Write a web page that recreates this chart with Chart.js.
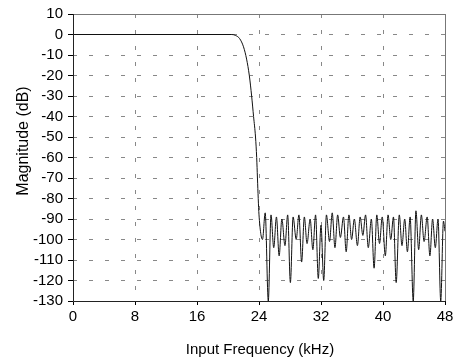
<!DOCTYPE html>
<html>
<head>
<meta charset="utf-8">
<script src="https://cdn.jsdelivr.net/npm/chart.js@4/dist/chart.umd.min.js"></script>
<style>
  html, body { margin: 0; padding: 0; background: #fff; }
</style>
</head>
<body>
<canvas id="myChart" width="461" height="364"></canvas>
<script>
// frequency response (kHz, dB)
var freqKHz = [
  0, 20.5, 21, 21.5, 22, 22.4, 22.75, 23.05, 23.3, 23.55, 23.7, 23.8, 23.9, 24.0,
  24.45, 24.8, 25.2, 25.55, 25.9, 26.25, 26.6, 26.95, 27.35, 27.7,
  28.05, 28.4, 28.8, 29.15, 29.5, 29.85, 30.2, 30.6, 30.95, 31.3,
  31.65, 32.0, 32.35, 32.7, 33.1, 33.45, 33.8, 34.15, 34.5, 34.9,
  35.25, 35.6, 35.95, 36.3, 36.7, 37.05, 37.4, 37.75, 38.1, 38.5,
  38.85, 39.2, 39.55, 39.9, 40.3, 40.65, 41.0, 41.35, 41.7, 42.1,
  42.45, 42.8, 43.15, 43.5, 43.9, 44.25, 44.6, 44.95, 45.3, 45.7,
  46.05, 46.4, 46.75, 47.1, 47.45, 47.8, 48
];
var magnitudeDb = [
  0, 0, -0.5, -2, -6, -12, -20, -30, -40, -50, -60, -70, -80, -88,
  -100, -87, -130, -88, -104, -89, -108, -90, -103, -88,
  -121, -89, -100, -88, -111, -89, -102, -90, -105, -88,
  -119, -93, -120, -88, -101, -87, -104, -88, -99, -89,
  -106, -88, -100, -90, -103, -89, -98, -88, -104, -90,
  -114, -88, -102, -89, -108, -88, -100, -89, -121, -88,
  -103, -90, -106, -89, -130, -86, -105, -88, -101, -89,
  -108, -90, -104, -90, -130, -91, -96
];
var xTicks = [0, 8, 16, 24, 32, 40, 48];
var yTicks = [10, 0, -10, -20, -30, -40, -50, -60, -70, -80, -90, -100, -110, -120, -130];

var points = freqKHz.map(function (f, i) { return { x: f, y: magnitudeDb[i] }; });

var fontFamily = "'Liberation Sans', Arial, sans-serif";

// frame and axis titles
var framePlugin = {
  id: 'frame',
  afterDraw: function (chart) {
    var c = chart.ctx, a = chart.chartArea;
    c.save();
    c.lineWidth = 1;
    c.strokeStyle = '#777';
    c.beginPath();
    c.moveTo(a.left, a.top + 0.5);
    c.lineTo(a.right + 0.5, a.top + 0.5);
    c.lineTo(a.right + 0.5, a.bottom);
    c.stroke();
    c.strokeStyle = '#222';
    c.beginPath();
    c.moveTo(a.left + 0.5, a.top);
    c.lineTo(a.left + 0.5, a.bottom + 0.5);
    c.lineTo(a.right + 0.5, a.bottom + 0.5);
    c.stroke();

    c.fillStyle = '#000';
    c.textAlign = 'center';
    c.textBaseline = 'middle';
    c.font = '15px ' + fontFamily;
    c.fillText('Input Frequency (kHz)', 260, 350);
    c.translate(24, 141);
    c.rotate(-Math.PI / 2);
    c.font = '16px ' + fontFamily;
    c.fillText('Magnitude (dB)', 0, 0);
    c.restore();
  }
};

var ctx = document.getElementById('myChart').getContext('2d');
var myChart = new Chart(ctx, {
  type: 'line',
  data: {
    datasets: [{
      data: points,
      borderColor: '#111',
      borderWidth: 1,
      pointRadius: 0,
      cubicInterpolationMode: 'monotone',
      fill: false
    }]
  },
  plugins: [framePlugin],
  options: {
    responsive: false,
    animation: false,
    layout: { padding: { top: 14, right: 16, left: 0, bottom: 0 } },
    plugins: { legend: { display: false }, tooltip: { enabled: false } },
    scales: {
      x: {
        type: 'linear',
        min: 0,
        max: 48,
        afterBuildTicks: function (axis) { axis.ticks = xTicks.map(function (v) { return { value: v }; }); },
        afterFit: function (axis) { axis.height = 63; },
        grid: { color: '#888', lineWidth: 1, tickLength: 4, tickColor: '#000', tickBorderDash: [] },
        border: { display: false, dash: [4, 12] },
        ticks: { color: '#000', font: { family: fontFamily, size: 15 }, padding: 3, maxRotation: 0, autoSkip: false }
      },
      y: {
        min: -130,
        max: 10,
        afterBuildTicks: function (axis) { axis.ticks = yTicks.map(function (v) { return { value: v }; }); },
        afterFit: function (axis) { axis.width = 73; },
        grid: { color: '#888', lineWidth: 1, tickLength: 5, tickColor: '#000', tickBorderDash: [] },
        border: { display: false, dash: [4, 12] },
        ticks: { color: '#000', font: { family: fontFamily, size: 15 }, padding: 5, autoSkip: false }
      }
    }
  }
});
</script>
</body>
</html>
